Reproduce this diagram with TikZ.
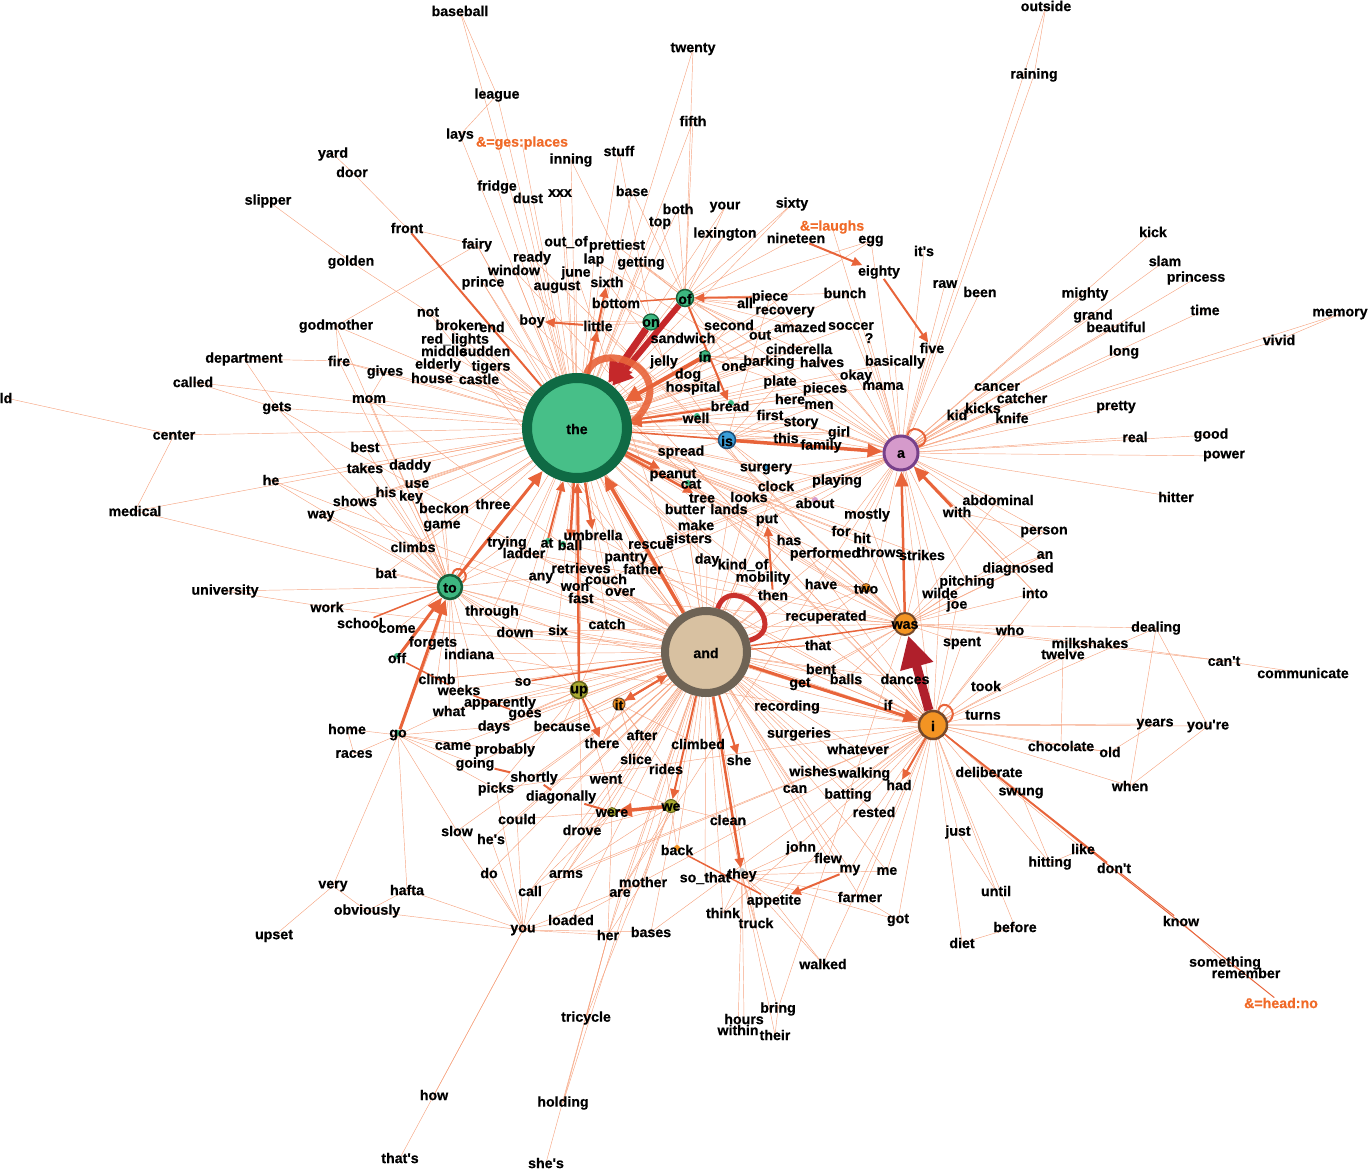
\documentclass[tikz,border=0pt]{standalone}
\usepackage{fontspec}
\setmainfont{Liberation Sans}[BoldFeatures={FakeBold=0.6}]
\usetikzlibrary{arrows.meta}
\pgfdeclarelayer{bg}
\pgfsetlayers{bg,main}
\definecolor{thinc}{HTML}{F6A582}
\definecolor{medc}{HTML}{E8643A}
\definecolor{thkA}{HTML}{C5282A}
\definecolor{thkB}{HTML}{B01F2B}
\definecolor{labc}{HTML}{F06A28}
\definecolor{theF}{HTML}{47BF88}
\definecolor{theR}{HTML}{0F6A44}
\definecolor{andF}{HTML}{D8C1A1}
\definecolor{andR}{HTML}{6E6355}
\definecolor{aF}{HTML}{D59ACB}
\definecolor{aR}{HTML}{77408A}
\definecolor{grF}{HTML}{3DB780}
\definecolor{grR}{HTML}{17603B}
\definecolor{orF}{HTML}{F39423}
\definecolor{orR}{HTML}{74482A}
\definecolor{isF}{HTML}{3B9ED9}
\definecolor{isR}{HTML}{1E4E78}
\definecolor{olF}{HTML}{A9AA30}
\definecolor{olR}{HTML}{66671E}
\newcommand\Wrd[4]{\node[w] (#1) at (#2,#3) {#4};}
\begin{document}
\begin{tikzpicture}[x=1pt,y=-1pt,
  w/.style={inner sep=0pt,font=\fontsize{14.2}{14}\selectfont\bfseries,text=black},
  ow/.style={w,text=labc},
  hub/.style={circle,inner sep=0pt},
  dot/.style={circle,inner sep=0pt,minimum size=6pt},
  ln/.style={draw=thinc,line width=0.45pt},
  mdn/.style={draw=medc,line width=1.5pt},
  md/.style={draw=medc,line width=2pt,-{Triangle[length=10pt,width=9pt]}},
  mdb/.style={draw=medc,line width=3pt,-{Triangle[length=15pt,width=13pt]}},
  loopst/.style={draw=medc,line width=2pt}
]
\useasboundingbox (0,0) rectangle (1370,1169);
% ---------- hubs ----------
\node[hub,minimum size=100pt,line width=10pt,draw=theR,fill=theF] (Hthe) at (577,428) {};
\node[hub,minimum size=82pt,line width=8pt,draw=andR,fill=andF] (Hand) at (706,652) {};
\node[hub,minimum size=34pt,line width=3pt,draw=aR,fill=aF] (Ha) at (901,453) {};
\node[hub,minimum size=24pt,line width=2.5pt,draw=grR,fill=grF] (Hto) at (450,587) {};
\node[hub,minimum size=22pt,line width=2pt,draw=orR,fill=orF] (Hwas) at (905,624) {};
\node[hub,minimum size=28pt,line width=2.5pt,draw=orR,fill=orF] (Hi) at (933,725) {};
\node[hub,minimum size=17pt,line width=1.5pt,draw=isR,fill=isF] (His) at (727,440) {};
\node[hub,minimum size=17pt,line width=1.5pt,draw=grR,fill=grF] (Hof) at (685,298) {};
\node[hub,minimum size=16pt,line width=1.2pt,draw=grR,fill=grF] (Hon) at (651,322) {};
\node[hub,minimum size=11pt,line width=1pt,draw=grR,fill=grF] (Hin) at (705,356) {};
\node[hub,minimum size=17pt,line width=1.5pt,draw=olR,fill=olF] (Hup) at (579,690) {};
\node[hub,minimum size=12pt,line width=1pt,draw=orR,fill=orF] (Hit) at (619,704) {};
\node[hub,minimum size=13pt,line width=1pt,draw=olR,fill=olF] (Hwe) at (671,806) {};
\node[hub,minimum size=9pt,line width=0.8pt,draw=olR,fill=olF] (Hwere) at (612,812) {};
\node[hub,minimum size=9pt,line width=0.8pt,draw=orR,fill=orF] (Htwo) at (866,588) {};
% small dots
\node[dot,fill=grF] (d1) at (548,541) {};
\node[dot,fill=grF] (d2) at (563,544) {};
\node[dot,fill=grF] (d3) at (688,483) {};
\node[dot,fill=grF] (d4) at (731,403) {};
\node[dot,fill=grF] (d5) at (697,416) {};
\node[dot,fill=isF] (d6) at (766,467) {};
\node[dot,fill=aF] (d7) at (815,500) {};
\node[dot,fill=black!25] (d8) at (767,518) {};
\node[dot,fill=grF] (d9) at (398,733) {};
\node[dot,fill=grF] (d10) at (397,656) {};
\node[dot,fill=black!20] (d11) at (742,871) {};
\node[dot,fill=orF] (d12) at (677,848) {};
% ---------- hub labels ----------
\node[w] (Lthe) at (577,429) {the};
\node[w] (Land) at (706,653) {and};
\node[w] (La) at (901,454) {a};
\node[w] (Lto) at (450,588) {to};
\node[w] (Lwas) at (905,625) {was};
\node[w] (Li) at (933,726) {i};
\node[w] (Lis) at (727,441) {is};
\node[w] (Lof) at (685,299) {of};
\node[w] (Lon) at (651,323) {on};
\node[w] (Lin) at (705,357) {in};
\node[w] (Lup) at (579,691) {up};
\node[w] (Lit) at (619,705) {it};
\node[w] (Lwe) at (671,807) {we};
\node[w] (Lwere) at (612,813) {were};
\node[w] (Ltwo) at (866,589) {two};
% ---------- words ----------
\Wrd{baseball}{460}{11}{baseball}
\Wrd{twenty}{693}{49}{twenty}
\Wrd{outside}{1046}{6}{outside}
\Wrd{raining}{1034}{75}{raining}
\Wrd{league}{497}{95}{league}
\Wrd{fifth}{693}{121}{fifth}
\Wrd{lays}{460}{135}{lays}
\node[ow] (gesplaces) at (522,143) {\&=ges:places};
\Wrd{inning}{571}{160}{inning}
\Wrd{stuff}{619}{151}{stuff}
\Wrd{yard}{333}{154}{yard}
\Wrd{door}{352}{172}{door}
\Wrd{fridge}{497}{187}{fridge}
\Wrd{dust}{528}{198}{dust}
\Wrd{xxx}{560}{193}{xxx}
\Wrd{base}{632}{191}{base}
\Wrd{both}{678}{209}{both}
\Wrd{your}{725}{207}{your}
\Wrd{sixty}{792}{204}{sixty}
\node[ow] (laughs) at (832,227) {\&=laughs};
\Wrd{top}{660}{223}{top}
\Wrd{lexington}{725}{234}{lexington}
\Wrd{nineteen}{796}{238}{nineteen}
\Wrd{egg}{871}{241}{egg}
\Wrd{its}{924}{251}{it\textquotesingle s}
\Wrd{slipper}{268}{201}{slipper}
\Wrd{front}{407}{228}{front}
\Wrd{fairy}{477}{245}{fairy}
\Wrd{outof}{566}{242}{out\_of}
\Wrd{prettiest}{617}{246}{prettiest}
\Wrd{kick}{1153}{232}{kick}
\Wrd{golden}{351}{262}{golden}
\Wrd{ready}{532}{258}{ready}
\Wrd{lap}{594}{260}{lap}
\Wrd{getting}{641}{263}{getting}
\Wrd{window}{514}{270}{window}
\Wrd{june}{576}{273}{june}
\Wrd{sixth}{607}{282}{sixth}
\Wrd{prince}{483}{283}{prince}
\Wrd{august}{557}{287}{august}
\Wrd{eighty}{879}{272}{eighty}
\Wrd{slam}{1165}{261}{slam}
\Wrd{princess}{1196}{278}{princess}
\Wrd{raw}{945}{284}{raw}
\Wrd{been}{980}{292}{been}
\Wrd{mighty}{1085}{294}{mighty}
\Wrd{bottom}{616}{303}{bottom}
\Wrd{all}{745}{303}{all}
\Wrd{piece}{770}{297}{piece}
\Wrd{bunch}{845}{293}{bunch}
\Wrd{time}{1205}{310}{time}
\Wrd{memory}{1340}{314}{memory}
\Wrd{grand}{1093}{316}{grand}
\Wrd{beautiful}{1116}{327}{beautiful}
\Wrd{not}{428}{312}{not}
\Wrd{boy}{532}{321}{boy}
\Wrd{little}{598}{326}{little}
\Wrd{recovery}{785}{312}{recovery}
\Wrd{godmother}{336}{326}{godmother}
\Wrd{broken}{459}{325}{broken}
\Wrd{end}{492}{327}{end}
\Wrd{sandwich}{683}{338}{sandwich}
\Wrd{second}{729}{325}{second}
\Wrd{amazed}{800}{327}{amazed}
\Wrd{soccer}{851}{326}{soccer}
\Wrd{qm}{869}{338}{?}
\Wrd{redlights}{455}{340}{red\_lights}
\Wrd{out}{760}{335}{out}
\Wrd{cinderella}{799}{349}{cinderella}
\Wrd{five}{932}{348}{five}
\Wrd{vivid}{1279}{340}{vivid}
\Wrd{long}{1124}{352}{long}
\Wrd{middle}{444}{351}{middle}
\Wrd{sudden}{485}{351}{sudden}
\Wrd{department}{244}{359}{department}
\Wrd{fire}{339}{361}{fire}
\Wrd{jelly}{664}{362}{jelly}
\Wrd{one}{734}{367}{one}
\Wrd{barking}{769}{362}{barking}
\Wrd{halves}{822}{362}{halves}
\Wrd{basically}{895}{362}{basically}
\Wrd{elderly}{438}{365}{elderly}
\Wrd{tigers}{491}{367}{tigers}
\Wrd{gives}{385}{372}{gives}
\Wrd{house}{432}{378}{house}
\Wrd{castle}{479}{379}{castle}
\Wrd{dog}{688}{375}{dog}
\Wrd{okay}{856}{376}{okay}
\Wrd{mama}{883}{386}{mama}
\Wrd{called}{193}{382}{called}
\Wrd{mom}{369}{399}{mom}
\Wrd{hospital}{693}{388}{hospital}
\Wrd{plate}{780}{382}{plate}
\Wrd{pieces}{825}{389}{pieces}
\Wrd{cancer}{997}{387}{cancer}
\Wrd{catcher}{1022}{398}{catcher}
\Wrd{gets}{277}{408}{gets}
\Wrd{bread}{730}{406}{bread}
\Wrd{here}{790}{399}{here}
\Wrd{men}{819}{405}{men}
\Wrd{kicks}{983}{408}{kicks}
\Wrd{kid}{957}{415}{kid}
\Wrd{knife}{1012}{418}{knife}
\Wrd{pretty}{1116}{407}{pretty}
\Wrd{ld}{6}{398}{ld}
\Wrd{center}{174}{435}{center}
\Wrd{well}{696}{418}{well}
\Wrd{first}{770}{415}{first}
\Wrd{story}{801}{423}{story}
\Wrd{this}{786}{438}{this}
\Wrd{girl}{839}{433}{girl}
\Wrd{family}{821}{446}{family}
\Wrd{real}{1135}{437}{real}
\Wrd{good}{1211}{435}{good}
\Wrd{best}{365}{447}{best}
\Wrd{spread}{681}{452}{spread}
\Wrd{daddy}{410}{466}{daddy}
\Wrd{takes}{365}{468}{takes}
\Wrd{power}{1224}{456}{power}
\Wrd{he}{271}{480}{he}
\Wrd{use}{417}{484}{use}
\Wrd{surgery}{766}{469}{surgery}
\Wrd{peanut}{673}{475}{peanut}
\Wrd{his}{386}{492}{his}
\Wrd{key}{411}{497}{key}
\Wrd{clock}{776}{486}{clock}
\Wrd{playing}{837}{481}{playing}
\Wrd{cat}{691}{484}{cat}
\Wrd{shows}{355}{501}{shows}
\Wrd{beckon}{444}{508}{beckon}
\Wrd{three}{493}{504}{three}
\Wrd{tree}{702}{498}{tree}
\Wrd{looks}{749}{497}{looks}
\Wrd{hitter}{1176}{497}{hitter}
\Wrd{abdominal}{998}{500}{abdominal}
\Wrd{medical}{135}{511}{medical}
\Wrd{way}{321}{516}{way}
\Wrd{butter}{685}{509}{butter}
\Wrd{lands}{729}{509}{lands}
\Wrd{about}{815}{503}{about}
\Wrd{with}{957}{512}{with}
\Wrd{mostly}{867}{515}{mostly}
\Wrd{game}{442}{526}{game}
\Wrd{put}{767}{520}{put}
\Wrd{make}{696}{525}{make}
\Wrd{person}{1044}{532}{person}
\Wrd{for}{841}{531}{for}
\Wrd{hit}{862}{538}{hit}
\Wrd{sisters}{689}{538}{sisters}
\Wrd{umbrella}{593}{535}{umbrella}
\Wrd{trying}{507}{543}{trying}
\Wrd{at}{547}{543}{at}
\Wrd{ball}{570}{545}{ball}
\Wrd{rescue}{651}{545}{rescue}
\Wrd{climbs}{413}{547}{climbs}
\Wrd{has}{789}{540}{has}
\Wrd{ladder}{524}{553}{ladder}
\Wrd{performed}{825}{554}{performed}
\Wrd{throws}{880}{552}{throws}
\Wrd{strikes}{922}{555}{strikes}
\Wrd{an}{1045}{555}{an}
\Wrd{pantry}{626}{558}{pantry}
\Wrd{day}{707}{560}{day}
\Wrd{kindof}{743}{565}{kind\_of}
\Wrd{diagnosed}{1018}{569}{diagnosed}
\Wrd{retrieves}{581}{568}{retrieves}
\Wrd{father}{643}{569}{father}
\Wrd{any}{541}{578}{any}
\Wrd{couch}{606}{579}{couch}
\Wrd{bat}{386}{573}{bat}
\Wrd{university}{225}{591}{university}
\Wrd{mobility}{763}{578}{mobility}
\Wrd{have}{821}{584}{have}
\Wrd{pitching}{967}{582}{pitching}
\Wrd{won}{575}{587}{won}
\Wrd{into}{1035}{593}{into}
\Wrd{wilde}{940}{593}{wilde}
\Wrd{fast}{581}{598}{fast}
\Wrd{over}{620}{592}{over}
\Wrd{then}{773}{595}{then}
\Wrd{joe}{957}{605}{joe}
\Wrd{work}{327}{607}{work}
\Wrd{through}{492}{612}{through}
\Wrd{school}{360}{623}{school}
\Wrd{recuperated}{826}{617}{recuperated}
\Wrd{who}{1010}{630}{who}
\Wrd{dealing}{1156}{628}{dealing}
\Wrd{come}{397}{629}{come}
\Wrd{catch}{607}{624}{catch}
\Wrd{six}{558}{630}{six}
\Wrd{down}{515}{632}{down}
\Wrd{spent}{962}{643}{spent}
\Wrd{forgets}{433}{643}{forgets}
\Wrd{that}{818}{645}{that}
\Wrd{milkshakes}{1090}{643}{milkshakes}
\Wrd{twelve}{1063}{654}{twelve}
\Wrd{indiana}{469}{654}{indiana}
\Wrd{off}{397}{658}{off}
\Wrd{cant}{1224}{661}{can\textquotesingle t}
\Wrd{communicate}{1303}{673}{communicate}
\Wrd{bent}{821}{669}{bent}
\Wrd{climb}{437}{679}{climb}
\Wrd{so}{523}{682}{so}
\Wrd{balls}{846}{679}{balls}
\Wrd{dances}{905}{679}{dances}
\Wrd{took}{986}{686}{took}
\Wrd{weeks}{459}{690}{weeks}
\Wrd{get}{800}{684}{get}
\Wrd{apparently}{500}{703}{apparently}
\Wrd{if}{888}{705}{if}
\Wrd{turns}{983}{715}{turns}
\Wrd{what}{449}{711}{what}
\Wrd{goes}{525}{715}{goes}
\Wrd{recording}{787}{707}{recording}
\Wrd{years}{1155}{724}{years}
\Wrd{youre}{1208}{726}{you\textquotesingle re}
\Wrd{home}{347}{729}{home}
\Wrd{days}{494}{727}{days}
\Wrd{because}{562}{726}{because}
\Wrd{go}{398}{735}{go}
\Wrd{after}{642}{735}{after}
\Wrd{there}{602}{743}{there}
\Wrd{climbed}{698}{744}{climbed}
\Wrd{surgeries}{799}{734}{surgeries}
\Wrd{chocolate}{1061}{746}{chocolate}
\Wrd{old}{1110}{752}{old}
\Wrd{came}{453}{746}{came}
\Wrd{probably}{505}{750}{probably}
\Wrd{whatever}{858}{749}{whatever}
\Wrd{races}{354}{754}{races}
\Wrd{slice}{636}{759}{slice}
\Wrd{she}{739}{760}{she}
\Wrd{going}{475}{764}{going}
\Wrd{rides}{666}{769}{rides}
\Wrd{wishes}{813}{771}{wishes}
\Wrd{walking}{864}{774}{walking}
\Wrd{deliberate}{989}{772}{deliberate}
\Wrd{shortly}{534}{778}{shortly}
\Wrd{went}{606}{779}{went}
\Wrd{can}{795}{789}{can}
\Wrd{had}{899}{785}{had}
\Wrd{batting}{848}{795}{batting}
\Wrd{swung}{1021}{793}{swung}
\Wrd{when}{1130}{786}{when}
\Wrd{picks}{496}{789}{picks}
\Wrd{diagonally}{561}{797}{diagonally}
\Wrd{rested}{874}{812}{rested}
\Wrd{could}{517}{819}{could}
\Wrd{clean}{728}{820}{clean}
\Wrd{slow}{457}{831}{slow}
\Wrd{just}{958}{832}{just}
\Wrd{drove}{582}{830}{drove}
\Wrd{hes}{491}{839}{he\textquotesingle s}
\Wrd{back}{677}{850}{back}
\Wrd{john}{801}{848}{john}
\Wrd{flew}{828}{858}{flew}
\Wrd{my}{850}{870}{my}
\Wrd{me}{887}{871}{me}
\Wrd{like}{1083}{849}{like}
\Wrd{hitting}{1050}{863}{hitting}
\Wrd{dont}{1114}{868}{don\textquotesingle t}
\Wrd{do}{489}{873}{do}
\Wrd{arms}{566}{874}{arms}
\Wrd{mother}{643}{882}{mother}
\Wrd{sothat}{705}{878}{so\_that}
\Wrd{they}{742}{875}{they}
\Wrd{are}{620}{893}{are}
\Wrd{very}{333}{886}{very}
\Wrd{hafta}{407}{890}{hafta}
\Wrd{call}{530}{891}{call}
\Wrd{appetite}{774}{901}{appetite}
\Wrd{farmer}{860}{897}{farmer}
\Wrd{until}{996}{891}{until}
\Wrd{got}{898}{920}{got}
\Wrd{obviously}{367}{911}{obviously}
\Wrd{know}{1181}{921}{know}
\Wrd{loaded}{571}{920}{loaded}
\Wrd{think}{723}{913}{think}
\Wrd{truck}{756}{923}{truck}
\Wrd{before}{1015}{927}{before}
\Wrd{upset}{274}{936}{upset}
\Wrd{you}{523}{930}{you}
\Wrd{her}{608}{935}{her}
\Wrd{bases}{651}{932}{bases}
\Wrd{diet}{962}{943}{diet}
\Wrd{walked}{823}{964}{walked}
\Wrd{something}{1225}{963}{something}
\Wrd{remember}{1246}{973}{remember}
\node[ow] (headno) at (1281,1003) {\&=head:no};
\Wrd{bring}{778}{1009}{bring}
\Wrd{hours}{744}{1019}{hours}
\Wrd{within}{738}{1030}{within}
\Wrd{their}{775}{1035}{their}
\Wrd{tricycle}{586}{1018}{tricycle}
\Wrd{how}{434}{1095}{how}
\Wrd{holding}{563}{1103}{holding}
\Wrd{thats}{400}{1158}{that\textquotesingle s}
\Wrd{shes}{546}{1163}{she\textquotesingle s}
% ---------- thin edges ----------
\begin{pgfonlayer}{bg}
\foreach \w in {baseball,league,lays,inning,stuff,fridge,dust,xxx,base,twenty,fifth,fairy,prince,window,ready,june,august,outof,prettiest,lap,getting,not,broken,end,redlights,middle,sudden,elderly,tigers,house,castle,gives,mom,gets,center,best,daddy,takes,he,use,his,key,shows,beckon,three,game,trying,ladder,retrieves,any,couch,won,fast,over,catch,six,down,through,rescue,pantry,father,sisters,make,butter,lands,spread,hospital,dog,jelly,sandwich,second,out,barking,cinderella,plate,pieces,here,men,first,story,this,girl,surgery,clock,looks,about,playing,mostly,day,kindof,has,performed,for,hit,throws,strikes,top,both,your,sixty,lexington,egg,recovery,amazed,soccer,bunch,basically,okay,mama,halves,one,fire,godmother,medical,way,bat,climbs,boy,family,gesplaces,called}
  \draw[ln] (Hthe.center) -- (\w.center);
\foreach \w in {its,egg,raw,been,kick,slam,princess,mighty,grand,beautiful,time,memory,vivid,long,cancer,catcher,kicks,kid,knife,pretty,real,good,power,hitter,abdominal,person,an,diagnosed,into,wilde,pitching,strikes,throws,hit,mostly,playing,about,girl,story,basically,mama,okay,five,soccer,bunch,outside,raining,clock,surgery,looks,piece,halves,pieces,men,here,first,put,for,qm,laughs}
  \draw[ln] (Ha.center) -- (\w.center);
\foreach \w in {then,mobility,kindof,day,recuperated,that,bent,balls,get,recording,surgeries,whatever,wishes,walking,can,batting,rested,clean,john,flew,my,me,farmer,back,sothat,mother,arms,call,loaded,her,bases,are,drove,went,slice,rides,climbed,after,there,because,goes,apparently,weeks,climb,indiana,down,six,catch,over,fast,won,couch,father,pantry,rescue,sisters,have,performed,has,diagonally,dances,you,think,truck,lands,butter,make,retrieves,any,put,looks,clock,shortly,probably,days,what}
  \draw[ln] (Hand.center) -- (\w.center);
\foreach \w in {dances,took,turns,spent,who,twelve,milkshakes,years,chocolate,youre,when,deliberate,swung,hitting,like,just,until,before,diet,got,me,farmer,rested,walking,whatever,batting,if,dealing,joe,wilde,into,old,surgeries,balls,my,appetite,recording}
  \draw[ln] (Hi.center) -- (\w.center);
\foreach \w in {recuperated,that,spent,joe,wilde,pitching,who,milkshakes,cant,dealing,have,performed,strikes,diagnosed,an,balls,throws,hit,mostly,abdominal,person,into,bent,get}
  \draw[ln] (Hwas.center) -- (\w.center);
\foreach \w in {bat,climbs,game,beckon,key,use,daddy,his,takes,best,shows,way,work,university,come,forgets,through,down,indiana,trying,ladder,any,six,three,he,medical,climb,what,weeks,mom,gets,godmother,fire,catch,so}
  \draw[ln] (Hto.center) -- (\w.center);
\foreach \w in {home,races,came,probably,going,slow,very,hafta,what,days,picks,forgets}
  \draw[ln] (go.center) -- (\w.center);
\foreach \w in {hafta,do,hes,could,call,loaded,how,thats,her,mother,picks,obviously,slow,bases}
  \draw[ln] (you.center) -- (\w.center);
\foreach \w in {tricycle,holding,shes,are,mother}
  \draw[ln] (her.center) -- (\w.center);
\foreach \w in {hours,within,their,bring,truck,think,appetite,walked,farmer,sothat,john,flew,clean,me,got}
  \draw[ln] (they.center) -- (\w.center);
\foreach \w in {piece,all,bunch,recovery,second,out,amazed,cinderella,sixty,nineteen,lexington,your,both,top,base,getting,prettiest,egg,one,fifth,twenty}
  \draw[ln] (Hof.center) -- (\w.center);
\foreach \w in {sandwich,jelly,little,boy,bottom,stuff,inning}
  \draw[ln] (Hon.center) -- (\w.center);
\foreach \w in {dog,hospital,one,barking,plate,second,halves}
  \draw[ln] (Hin.center) -- (\w.center);
\foreach \w in {this,family,story,first,surgery,spread,well,clock,girl,piece,men,plate}
  \draw[ln] (His.center) -- (\w.center);
\foreach \w in {so,because,apparently,goes,days,went,drove,slice,six,catch,fast,picks}
  \draw[ln] (Hup.center) -- (\w.center);
\foreach \w in {back,mother,are,arms,went,clean,drove,rides}
  \draw[ln] (Hwe.center) -- (\w.center);
\foreach \w in {drove,arms,her,went,call,could}
  \draw[ln] (Hwere.center) -- (\w.center);
\foreach \w in {after,there,slice,rides,because,climbed}
  \draw[ln] (Hit.center) -- (\w.center);
\foreach \w in {have,performed,throws,recuperated}
  \draw[ln] (Htwo.center) -- (\w.center);
\foreach \a/\b in {slipper/golden,golden/not,yard/door,door/front,godmother/fairy,godmother/fire,department/fire,fire/gives,department/gets,called/gets,mom/gives,ld/center,center/medical,university/work,upset/very,very/obviously,obviously/hafta,home/races,baseball/league,league/lays,raining/outside,vivid/memory,dealing/youre,youre/when,years/old,old/chocolate,know/something,something/remember,milkshakes/cant,cant/communicate,with/person,with/into,diagnosed/an,an/pitching,joe/wilde,hitting/like,front/fairy,twelve/chocolate,dealing/when,hitting/swung,until/just,before/diet,got/farmer,walked/appetite,bring/their,
  fairy/Hand,prince/Hand,window/Hi,ready/Hwas,lap/Ha,getting/Ha,june/Hand,sixth/Hi,boy/Hi,little/Hwas,not/Hand,end/Hwas,house/Ha,castle/Hi,tigers/Hand,spread/Hi,peanut/Hwas,cat/Hi,tree/Hwas,umbrella/Hi,ball/Hwas,trying/Hi,ladder/Hwas,rescue/Ha,pantry/Ha,father/Hi,couch/Ha,over/Hi,fast/Hwas,catch/Hi,through/Hi,down/Hwas,indiana/Hi,climb/Hand,came/Hand,going/Hand,picks/Hi,could/Hand,slow/Hand,hes/Hand,do/Hand,call/Hi,loaded/Hi,bases/Hi,are/Ha,arms/Hi,think/Hi,walked/Hi,bring/Hwas,tricycle/Hwe,holding/Hand,work/Hand,come/Hand,mom/Hand,gets/Hand,he/Hand,way/Hi}
  \draw[ln] (\a.center) -- (\b.center);
\draw[ln] (Hthe.center) -- (Hand.center);
\draw[ln] (Hthe.center) -- (His.center);
\draw[ln] (Hthe.center) -- (Hwas.center);
\draw[ln] (Hand.center) -- (Hup.center);
\draw[ln] (Hand.center) -- (Hwere.center);
\draw[ln] (Hand.center) -- (Htwo.center);
\draw[ln] (Hwas.center) -- (Htwo.center);
\draw[ln] (Hto.center) -- (Hup.center);
\draw[ln] (Hto.center) -- (Hand.center);
\draw[ln] (Hi.center) -- (Ha.center);
% ---------- medium edges ----------
\draw[mdn,line width=2pt] (front) -- (Hthe);
\draw[mdn] (so) -- (Hand);
\draw[mdn] (off) -- (weeks) -- (goes);
\draw[mdn,line width=2pt] (going) -- (shortly) -- (diagonally) -- (Hwere);
\draw[mdn] (school) -- (Hto);
\draw[mdn] (back) -- (appetite);
\draw[mdn] (Hi) -- (dont);
\draw[mdn,line width=1pt] (Hi) -- (headno);
\draw[mdn,line width=1pt] (dont) -- (know);
\draw[mdn] (bottom) -- (Hof);
\draw[mdn] (Hthe) -- (Ha);
\draw[mdn] (Hand) -- (Hwas);
\draw[mdn,line width=1pt] (Hand) -- (that);
\draw[md] (Hi) -- (had);
\draw[md] (my) -- (appetite);
\draw[md] (then) -- (put);
\draw[md] (Hand) -- (she);
\draw[md,line width=2.5pt] (Hand) -- (they);
\draw[md] (Hand) -- (Hwe);
\draw[md] (Hand) -- (Hit);
\draw[md] (Hit) -- (Hand);
\draw[md] (Hup) -- (there);
\draw[md] (nineteen) -- (eighty);
\draw[md] (eighty) -- (five);
\draw[md] (Hof) -- (bread);
\draw[md] (piece) -- (Hof);
\draw[md] (little) -- (boy);
\draw[md] (Hthe) -- (little);
\draw[md] (Hthe) -- (sixth);
\draw[md] (well) -- (Hthe);
\draw[md] (bread) -- (Hthe);
\draw[md,line width=2.5pt] (Hthe) -- (peanut);
\draw[md,line width=2.5pt] (Hthe) -- (tree);
\draw[md,line width=2.5pt] (Hthe) -- (umbrella);
\draw[md,line width=2.5pt] (Hthe) -- (ball);
\draw[md] (at) -- (Hthe);
\draw[md,line width=2.5pt] (Hup) -- (Hthe);
\draw[mdb] (Hto) -- (Hthe);
\draw[mdb,line width=3.5pt] (Hand) -- (Hthe);
\draw[mdb] (Hand) -- (Hi);
\draw[mdb] (go) -- (Hto);
\draw[mdb] (off) -- (Hto);
\draw[mdb,line width=3.5pt] (Hwe) -- (Hwere);
\draw[mdb,line width=3.5pt] (His) -- (Ha);
\draw[mdb,line width=2.5pt] (Hwas) -- (Ha);
\draw[mdb] (with) -- (Ha);
\draw[mdb,line width=4pt,-{Triangle[length=16pt,width=16pt]}] (Hin) -- (Hthe);
% ---------- thick edges ----------
\draw[line width=6pt,draw=thkA,-{Triangle[length=20pt,width=22pt]}] (Hof) -- (Hthe);
\draw[line width=7pt,draw=thkA,-{Triangle[length=22pt,width=26pt]}] (Hon) -- (Hthe);
\draw[line width=9pt,draw=thkB,-{Triangle[length=32pt,width=32pt]}] (Hi) -- (Hwas);
% self loops
\draw[draw=medc,line width=7pt,opacity=0.9] (Hthe.80) .. controls (600,335) and (687,373) .. (Hthe.5);
\draw[draw=thkA!85!medc,line width=5pt] (Hand.75) .. controls (730,570) and (794,627) .. (Hand.15);
\draw[loopst] (Ha.70) .. controls (912,418) and (938,440) .. (Ha.20);
\draw[loopst] (Hi.70) .. controls (942,696) and (962,712) .. (Hi.10);
\draw[loopst] (Hto.80) .. controls (456,562) and (473,574) .. (Hto.20);
\end{pgfonlayer}
\end{tikzpicture}
\end{document}
